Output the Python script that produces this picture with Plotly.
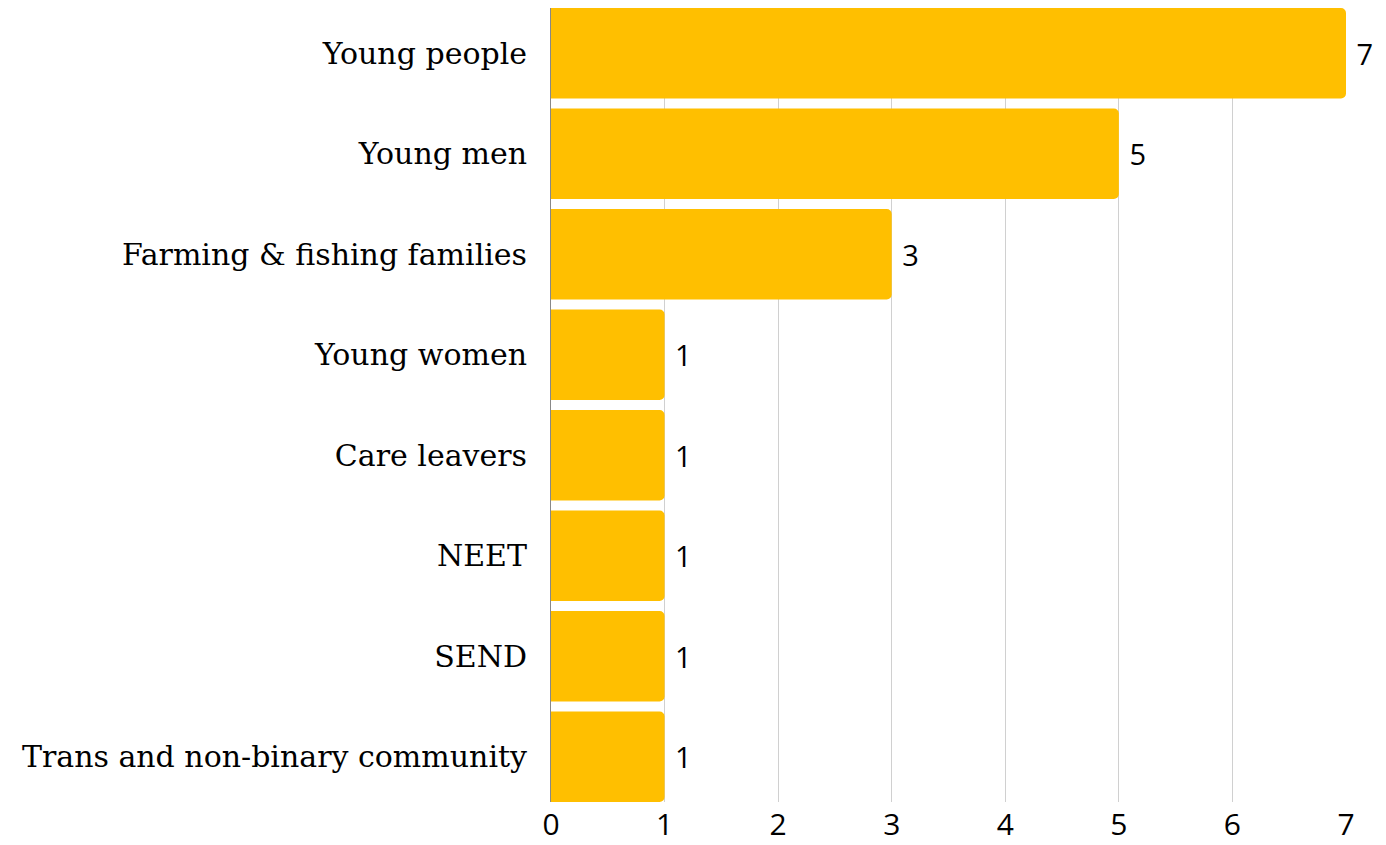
import plotly.graph_objects as go

categories = ["Young people", "Young men", "Farming & fishing families", "Young women",
              "Care leavers", "NEET", "SEND", "Trans and non-binary community"]
values = [7, 5, 3, 1, 1, 1, 1, 1]
tick_vals = [0, 1, 2, 3, 4, 5, 6, 7]

fig = go.Figure(go.Bar(
    y=categories, x=values, orientation="h", width=0.9,
    marker=dict(color="#FFBF00", cornerradius=5, line=dict(width=0)),
    text=[" " + str(v) for v in values], textposition="outside",
    textfont=dict(family="Open Sans", size=29, color="#000000"),
    cliponaxis=False,
))

fig.update_layout(
    width=1370, height=837,
    margin=dict(l=543, r=32, t=0, b=43, autoexpand=False),
    paper_bgcolor="white", plot_bgcolor="white",
    showlegend=False,
)
fig.update_xaxes(range=[0, 7], tickvals=tick_vals, showgrid=True, gridcolor="#D0D0D0",
                 gridwidth=1, zeroline=False, showline=False, automargin=False,
                 tickfont=dict(family="Open Sans", size=30, color="#000000"), ticklabelstandoff=2)
fig.update_yaxes(range=[len(categories) - 0.55, -0.45], showline=True, linecolor="#888888",
                 linewidth=1, automargin=False,
                 tickfont=dict(family="DejaVu Serif", size=30, color="#000000"),
                 ticklabelstandoff=17, showgrid=False)

fig.write_html("out.html")
